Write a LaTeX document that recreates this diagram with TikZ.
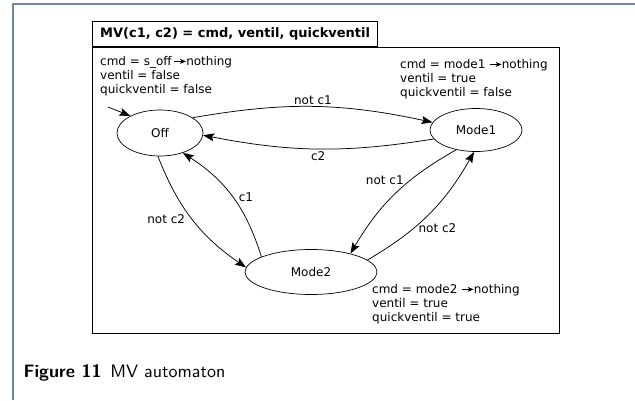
\documentclass[tikz,border=0pt]{standalone}
\usepackage{fontspec}
\newfontfamily\dejavu{DejaVu Sans}
\newfontfamily\capfont{lmsans10-regular.otf}[BoldFont=lmsans10-bold.otf]
\usetikzlibrary{shapes.geometric,arrows.meta}
\definecolor{framecol}{RGB}{110,135,165}
% small arrow used inside the state notes
\newcommand{\tarr}{\tikz[baseline=-0.6ex]\draw[line width=0.6pt,-{Stealth[length=6pt,width=5pt]}] (0,0) -- (12pt,0);}

\begin{document}
\begin{tikzpicture}[x=1pt,y=1pt,
    state/.style={draw,ellipse,line width=0.7pt,inner sep=0pt,font=\dejavu\fontsize{12}{14}\selectfont},
    notes/.style={anchor=north west,align=left,inner sep=0pt,font=\dejavu\fontsize{12}{14}\selectfont},
    trans/.style={line width=0.75pt,-{Stealth[length=11pt,width=8pt,inset=2pt]}},
    lbl/.style={font=\dejavu\fontsize{12}{14}\selectfont,inner sep=2pt}]
  \useasboundingbox (0,0) rectangle (635,400);
  \draw [framecol, line width=1.2pt] (13,0) -- (13,396) -- (635,396);
  % frame with its title tab
  \node (frame) [draw, line width=1.2pt, anchor=north west, minimum width=467pt,
    minimum height=286pt, inner sep=0pt] at (92,353) {};
  \node (tab) [draw, line width=1.2pt, anchor=south west, minimum width=285pt,
    minimum height=25pt, inner sep=0pt, font=\dejavu\bfseries\fontsize{13}{15}\selectfont]
    at (frame.north west) {MV(c1, c2) = cmd, ventil, quickventil};
  % states
  \node (off) [state, minimum width=86pt, minimum height=46pt] at (160,267) {Off};
  \node (mode1) [state, minimum width=92pt, minimum height=43pt] at (476,270) {Mode1};
  \node (mode2) [state, minimum width=132pt, minimum height=45pt] at (311,128) {Mode2};
  \node (offnotes) [notes] at (100,344) {cmd = s\_off\,\tarr nothing\\ventil = false\\quickventil = false};
  \node (mode1notes) [notes] at (400,341) {cmd = mode1 \tarr nothing\\ventil = true\\quickventil = false};
  \node (mode2notes) [notes] at (372,116) {cmd = mode2 \tarr nothing\\ventil = true\\quickventil = true};
  % transitions
  \coordinate (init) at (108,293);
  \draw [trans] (init) -- (off.150);
  \draw [trans] (off.25) to [bend left=11] node [lbl, above] {not c1} (mode1.170);
  \draw [trans] (mode1.192) to [bend left=10] node [lbl, below] {c2} (off.357);
  \draw [trans] (off.265) to [bend right=17] node [lbl, left=5pt] {not c2} (mode2.176);
  \draw [trans] (mode2.163) to [bend right=20] node [lbl, right=4pt] {c1} (off.319);
  \draw [trans] (mode1.225) to [bend right=15] node [lbl, pos=0.35, left=5pt] {not c1} (mode2.25);
  \draw [trans] (mode2.12) to [bend right=15] node [lbl, pos=0.35, right=3pt] {not c2} (mode1.265);
  % caption
  \node (caption) [anchor=west, font=\capfont\fontsize{18}{22}\selectfont] at (20,27)
    {\textbf{Figure 11}\hspace{0.5em}MV automaton};
\end{tikzpicture}
\end{document}
